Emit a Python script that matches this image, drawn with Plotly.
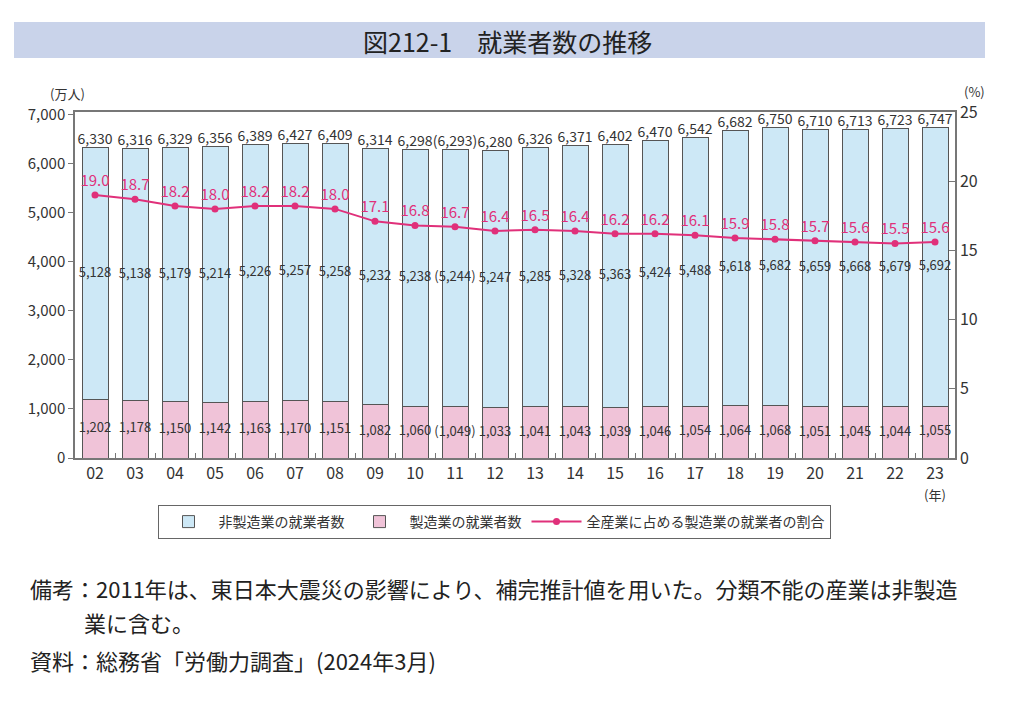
import plotly.graph_objects as go

years = ["02","03","04","05","06","07","08","09","10","11","12","13","14","15","16","17","18","19","20","21","22","23"]
non_mfg = [5128,5138,5179,5214,5226,5257,5258,5232,5238,5244,5247,5285,5328,5363,5424,5488,5618,5682,5659,5668,5679,5692]
mfg = [1202,1178,1150,1142,1163,1170,1151,1082,1060,1049,1033,1041,1043,1039,1046,1054,1064,1068,1051,1045,1044,1055]
totals = [6330,6316,6329,6356,6389,6427,6409,6314,6298,6293,6280,6326,6371,6402,6470,6542,6682,6750,6710,6713,6723,6747]
ratio = [19.0,18.7,18.2,18.0,18.2,18.2,18.0,17.1,16.8,16.7,16.4,16.5,16.4,16.2,16.2,16.1,15.9,15.8,15.7,15.6,15.5,15.6]
estimated_year = "11"

def fmt(v, y):
    s = f"{v:,}"
    return f"({s})" if y == estimated_year else s

FONT = "Noto Sans CJK JP"
BLUE = "#cde8f6"
PINK = "#f0c3d8"
LINE = "#e0307a"
EDGE = "#555555"
TXT = "#333333"

PL, PT, PW, PH = 75, 112, 880, 346
def px(x):
    return (x - PL) / PW
def py(y):
    return (PT + PH - y) / PH

fig = go.Figure()
fig.add_trace(go.Bar(x=years, y=mfg, name="製造業の就業者数", marker=dict(color=PINK, line=dict(color=EDGE, width=1)), legendrank=2))
fig.add_trace(go.Bar(x=years, y=non_mfg, name="非製造業の就業者数", marker=dict(color=BLUE, line=dict(color=EDGE, width=1)), legendrank=1))

fig.add_trace(go.Scatter(x=years, y=[m / 2 for m in mfg], mode="text",
                         text=[fmt(v, y) for v, y in zip(mfg, years)],
                         textfont=dict(family=FONT, size=13, color=TXT), showlegend=False, cliponaxis=False, hoverinfo="skip"))
fig.add_trace(go.Scatter(x=years, y=[m + n / 2 for m, n in zip(mfg, non_mfg)], mode="text",
                         text=[fmt(v, y) for v, y in zip(non_mfg, years)],
                         textfont=dict(family=FONT, size=13, color=TXT), showlegend=False, cliponaxis=False, hoverinfo="skip"))
fig.add_trace(go.Scatter(x=years, y=totals, mode="text", textposition="top center",
                         text=[fmt(v, y) for v, y in zip(totals, years)],
                         textfont=dict(family=FONT, size=14, color=TXT), showlegend=False, cliponaxis=False, hoverinfo="skip"))

fig.add_trace(go.Scatter(x=years, y=ratio, yaxis="y2", mode="lines+markers+text", name="全産業に占める製造業の就業者の割合",
                         line=dict(color=LINE, width=2), marker=dict(color=LINE, size=7),
                         text=[f"{v:.1f}" for v in ratio], textposition="top center",
                         textfont=dict(family=FONT, size=15, color=LINE), cliponaxis=False, legendrank=3))

W, H = 1016, 698
fig.update_layout(
    width=W, height=H,
    margin=dict(l=PL - 8, r=W - (PL - 8) - PW, t=PT - 8, b=H - (PT - 8) - PH, autoexpand=False),
    paper_bgcolor="white", plot_bgcolor="white",
    barmode="stack", bargap=0.35,
    font=dict(family=FONT, size=15, color=TXT),
    xaxis=dict(type="category", range=[-0.5, len(years) - 0.5], showline=True, linecolor="#777", linewidth=1.5, mirror=True,
               ticks="inside", tickson="boundaries", ticklen=5, tickcolor="#777",
               tickfont=dict(size=16, color=TXT), showgrid=False),
    yaxis=dict(range=[0, 7060], tickvals=[0,1000,2000,3000,4000,5000,6000,7000], tickformat=",",
               showline=True, linecolor="#777", linewidth=1.5, ticks="outside", ticklen=5, tickcolor="#777",
               showgrid=False, zeroline=False, tickfont=dict(size=15, color=TXT)),
    yaxis2=dict(range=[0, 25], tickvals=[0,5,10,15,20,25], overlaying="y", side="right",
                showline=True, linecolor="#777", linewidth=1.5, ticks="inside", ticklen=6, tickcolor="#777",
                showgrid=False, zeroline=False, tickfont=dict(size=16, color=TXT)),
    legend=dict(orientation="h", x=px(494), xanchor="center", y=py(505), yanchor="top",
                bordercolor="#666", borderwidth=1, font=dict(size=14, color=TXT),
                traceorder="normal", itemwidth=50),
    showlegend=True,
)

fig.add_shape(type="rect", xref="paper", yref="paper", x0=px(14), x1=px(985),
              y0=py(58), y1=py(22), fillcolor="#c9d3ea", line=dict(width=0), layer="below")
fig.add_annotation(xref="paper", yref="paper", x=px(507), y=py(41), text="図212-1　就業者数の推移",
                   showarrow=False, font=dict(size=25, color="#222"), xanchor="center", yanchor="middle")
fig.add_annotation(xref="paper", yref="paper", x=px(48), y=py(94), text="(万人)", showarrow=False,
                   font=dict(size=13, color=TXT), xanchor="left", yanchor="middle")
fig.add_annotation(xref="paper", yref="paper", x=px(987), y=py(92), text="(%)", showarrow=False,
                   font=dict(size=13, color=TXT), xanchor="right", yanchor="middle")
fig.add_annotation(xref="paper", yref="paper", x=px(935), y=py(494), text="(年)", showarrow=False,
                   font=dict(size=13, color=TXT), xanchor="center", yanchor="middle")
fig.add_annotation(xref="paper", yref="paper", x=px(28), y=py(588),
                   text="備考：2011年は、東日本大震災の影響により、補完推計値を用いた。分類不能の産業は非製造",
                   showarrow=False, font=dict(size=22, color="#222"), xanchor="left", yanchor="middle")
fig.add_annotation(xref="paper", yref="paper", x=px(82), y=py(622),
                   text="業に含む。", showarrow=False, font=dict(size=22, color="#222"), xanchor="left", yanchor="middle")
fig.add_annotation(xref="paper", yref="paper", x=px(28), y=py(660),
                   text="資料：総務省「労働力調査」(2024年3月)", showarrow=False, font=dict(size=22, color="#222"),
                   xanchor="left", yanchor="middle")

fig.write_html("out.html")
